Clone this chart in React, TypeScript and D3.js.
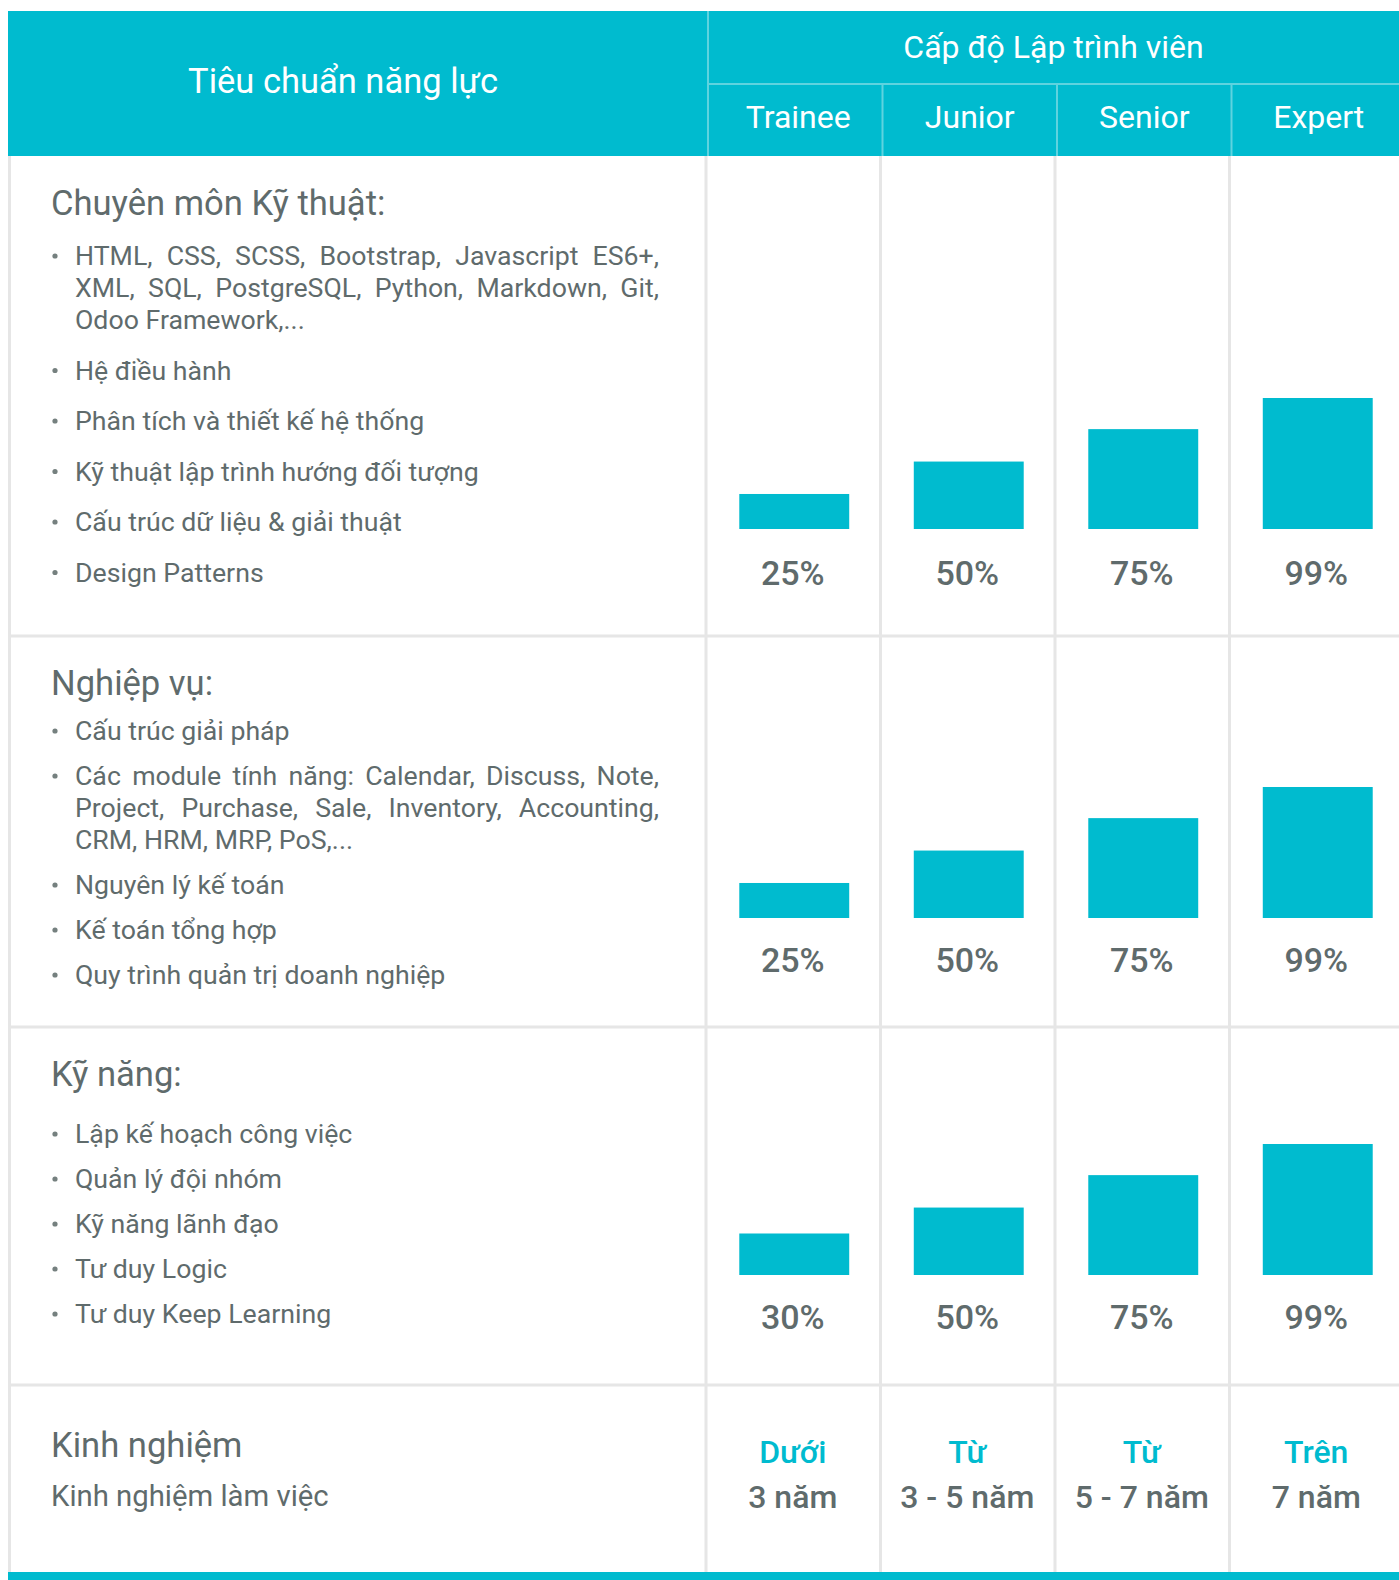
import React, { useRef, useEffect } from "react";
import * as d3 from "d3";

const levels = ["Trainee", "Junior", "Senior", "Expert"];
const headerLeft = "Tiêu chuẩn năng lực";
const headerRight = "Cấp độ Lập trình viên";

const techTitle = "Chuyên môn Kỹ thuật:";
const techItems = [
	["HTML, CSS, SCSS, Bootstrap, Javascript ES6+,", "XML, SQL, PostgreSQL, Python, Markdown, Git,", "Odoo Framework,..."],
	["Hệ điều hành"],
	["Phân tích và thiết kế hệ thống"],
	["Kỹ thuật lập trình hướng đối tượng"],
	["Cấu trúc dữ liệu & giải thuật"],
	["Design Patterns"],
];
const techValues = [25, 50, 75, 99];

const bizTitle = "Nghiệp vụ:";
const bizItems = [
	["Cấu trúc giải pháp"],
	["Các module tính năng: Calendar, Discuss, Note,", "Project, Purchase, Sale, Inventory, Accounting,", "CRM, HRM, MRP, PoS,..."],
	["Nguyên lý kế toán"],
	["Kế toán tổng hợp"],
	["Quy trình quản trị doanh nghiệp"],
];
const bizValues = [25, 50, 75, 99];

const skillTitle = "Kỹ năng:";
const skillItems = [
	["Lập kế hoạch công việc"],
	["Quản lý đội nhóm"],
	["Kỹ năng lãnh đạo"],
	["Tư duy Logic"],
	["Tư duy Keep Learning"],
];
const skillValues = [30, 50, 75, 99];

const expTitle = "Kinh nghiệm";
const expSubtitle = "Kinh nghiệm làm việc";
const expPrefix = ["Dưới", "Từ", "Từ", "Trên"];
const expRange = ["3 năm", "3 - 5 năm", "5 - 7 năm", "7 năm"];

const W = 1399;
const H = 1580;
const TEAL = "#00bbcf";
const GRID = "#e6e6e6";
const INK = "#5f6b6c";
const FONT = "Roboto, sans-serif";

const CompetencyTable: React.FC = () => {
	const svgRef = useRef<SVGSVGElement | null>(null);

	useEffect(() => {
		if (!svgRef.current) return;
		const svg = d3.select(svgRef.current);
		svg.selectAll("*").remove();

		const left = 8;
		const splitX = 708;
		const headTop = 11;
		const headMid = 84;
		const headBottom = 156;
		const bodyBottom = 1572;
		const rowLines = [636, 1027, 1385];
		const textX = 75;
		const textRight = 659;
		const bodySize = 26.7;
		const titleSize = 34.6;

		// columns
		const col = d3.scaleBand<string>().domain(levels).range([splitX, 1406]);
		const barX = d3
			.scaleBand<string>()
			.domain(levels)
			.range([splitX, 1406])
			.paddingInner(0.37)
			.paddingOuter(0.185);
		const cx = (l: string) => (col(l) as number) + col.bandwidth() / 2;

		svg.append("rect").attr("width", W).attr("height", H).attr("fill", "#fff");

		// header
		svg.append("rect")
			.attr("x", left).attr("y", headTop)
			.attr("width", W - left).attr("height", headBottom - headTop)
			.attr("fill", TEAL);
		const hl = svg.append("g").attr("stroke", "#5fd3df").attr("stroke-width", 2);
		hl.append("line").attr("x1", splitX).attr("x2", splitX).attr("y1", headTop).attr("y2", headBottom);
		hl.append("line").attr("x1", splitX).attr("x2", W).attr("y1", headMid).attr("y2", headMid);
		levels.slice(1).forEach((l) => {
			hl.append("line").attr("x1", col(l)!).attr("x2", col(l)!).attr("y1", headMid).attr("y2", headBottom);
		});

		svg.append("text")
			.attr("x", 343).attr("y", 81)
			.attr("text-anchor", "middle").attr("dominant-baseline", "central")
			.attr("font-family", FONT).attr("font-size", 34.5).attr("fill", "#fff")
			.text(headerLeft);
		svg.append("text")
			.attr("x", (splitX + 1399) / 2).attr("y", 47)
			.attr("text-anchor", "middle").attr("dominant-baseline", "central")
			.attr("font-family", FONT).attr("font-size", 32).attr("fill", "#fff")
			.text(headerRight);
		svg.append("g").selectAll("text").data(levels).enter().append("text")
			.attr("x", (d, i) => cx(d) + (i === 0 ? 3 : 0)).attr("y", 117)
			.attr("text-anchor", "middle").attr("dominant-baseline", "central")
			.attr("font-family", FONT).attr("font-size", 32).attr("fill", "#fff")
			.text((d) => d);

		// grid
		const grid = svg.append("g").attr("stroke", GRID).attr("stroke-width", 3);
		grid.append("line").attr("x1", 9.5).attr("x2", 9.5).attr("y1", headBottom).attr("y2", bodyBottom);
		levels.forEach((l) => {
			grid.append("line").attr("x1", col(l)! - 2).attr("x2", col(l)! - 2)
				.attr("y1", headBottom).attr("y2", bodyBottom);
		});
		rowLines.forEach((y) => {
			grid.append("line").attr("x1", left).attr("x2", W).attr("y1", y).attr("y2", y);
		});
		svg.append("rect").attr("x", left).attr("y", bodyBottom).attr("width", W - left).attr("height", H - bodyBottom).attr("fill", TEAL);

		const sections = [
			{ title: techTitle, items: techItems, values: techValues, titleY: 203, firstY: 256, gap: 50.5, base: 529, labelY: 573 },
			{ title: bizTitle, items: bizItems, values: bizValues, titleY: 683, firstY: 731, gap: 45, base: 918, labelY: 960 },
			{ title: skillTitle, items: skillItems, values: skillValues, titleY: 1074, firstY: 1134, gap: 45, base: 1275, labelY: 1317 },
		];
		const lineH = 32;

		sections.forEach((s) => {
			const g = svg.append("g");
			g.append("text")
				.attr("x", 51).attr("y", s.titleY).attr("dominant-baseline", "central")
				.attr("font-family", FONT).attr("font-size", titleSize).attr("fill", INK)
				.text(s.title);

			let y = s.firstY;
			s.items.forEach((lines) => {
				g.append("circle").attr("cx", 55).attr("cy", y).attr("r", 2.6).attr("fill", "#75807f");
				lines.forEach((line, i) => {
					const ly = y + i * lineH;
					const justify = i < lines.length - 1;
					if (!justify) {
						g.append("text")
							.attr("x", textX).attr("y", ly).attr("dominant-baseline", "central")
							.attr("font-family", FONT).attr("font-size", bodySize).attr("fill", INK)
							.text(line);
						return;
					}
					// justified line: spread words over the column width
					const words = line.split(" ");
					const nodes = words.map((w) =>
						g.append("text")
							.attr("y", ly).attr("dominant-baseline", "central")
							.attr("font-family", FONT).attr("font-size", bodySize).attr("fill", INK)
							.text(w)
					);
					const widths = nodes.map((n) => (n.node() as SVGTextElement).getComputedTextLength());
					const total = d3.sum(widths);
					const space = (textRight - textX - total) / (words.length - 1);
					let x = textX;
					nodes.forEach((n, k) => {
						n.attr("x", x);
						x += widths[k] + space;
					});
				});
				y += (lines.length - 1) * lineH + s.gap;
			});

			const yScale = d3.scaleLinear().domain([-2, 100]).range([s.base, s.base - 132.3]);
			g.selectAll("rect.bar").data(s.values).enter().append("rect")
				.attr("class", "bar")
				.attr("x", (_, i) => barX(levels[i])! - 1)
				.attr("width", barX.bandwidth())
				.attr("y", (d) => yScale(d))
				.attr("height", (d) => s.base - yScale(d))
				.attr("fill", TEAL);
			g.selectAll("text.pct").data(s.values).enter().append("text")
				.attr("class", "pct")
				.attr("x", (_, i) => cx(levels[i]) - 2.5)
				.attr("y", s.labelY)
				.attr("text-anchor", "middle").attr("dominant-baseline", "central")
				.attr("font-family", FONT).attr("font-size", 34).attr("font-weight", 500).attr("fill", INK)
				.text((d) => `${d}%`);
		});

		// experience row
		const e = svg.append("g").attr("font-family", FONT);
		e.append("text").attr("x", 51).attr("y", 1445).attr("dominant-baseline", "central")
			.attr("font-size", titleSize).attr("fill", INK).text(expTitle);
		e.append("text").attr("x", 51).attr("y", 1496).attr("dominant-baseline", "central")
			.attr("font-size", 29.3).attr("fill", INK).text(expSubtitle);
		e.selectAll("text.pre").data(expPrefix).enter().append("text")
			.attr("class", "pre")
			.attr("x", (_, i) => cx(levels[i]) - 2.5).attr("y", 1452)
			.attr("text-anchor", "middle").attr("dominant-baseline", "central")
			.attr("font-size", 32).attr("font-weight", 500).attr("fill", TEAL)
			.text((d) => d);
		e.selectAll("text.rng").data(expRange).enter().append("text")
			.attr("class", "rng")
			.attr("x", (_, i) => cx(levels[i]) - 2.5).attr("y", 1497)
			.attr("text-anchor", "middle").attr("dominant-baseline", "central")
			.attr("font-size", 32).attr("font-weight", 500).attr("fill", INK)
			.text((d) => d);
	}, []);

	return (
		<svg
			ref={svgRef}
			width={W}
			height={H}
			style={{ position: "absolute", left: 0, top: 0, display: "block" }}
		/>
	);
};

export default function App() {
	return <CompetencyTable />;
}
